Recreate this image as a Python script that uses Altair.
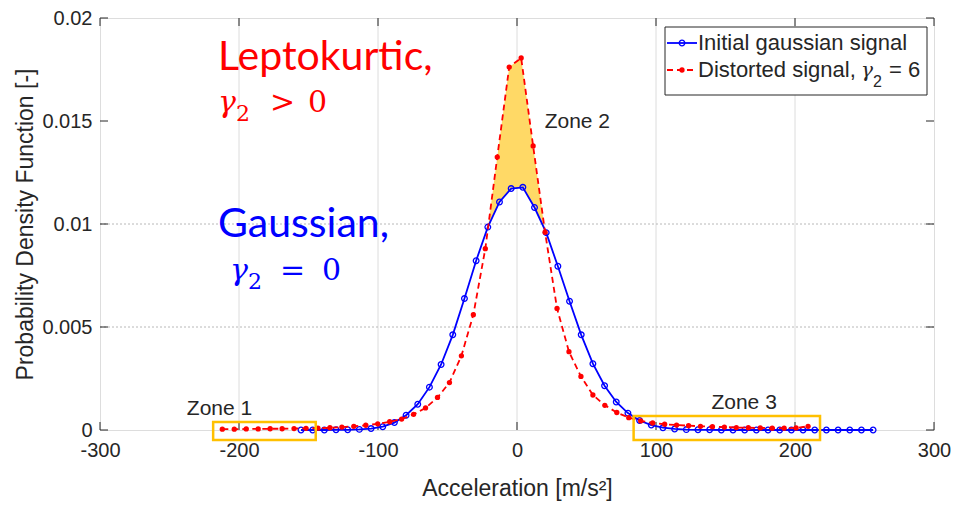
import altair as alt
import pandas as pd
import numpy as np

# ---------------- data ----------------
blue_x = [-155.4, -147.0, -138.6, -130.2, -121.8, -113.4, -105.0, -96.6, -88.2, -79.8,
          -71.4, -63.0, -54.6, -46.2, -37.8, -29.4, -21.0, -12.6, -4.2, 4.2,
          12.6, 21.0, 29.4, 37.8, 46.2, 54.6, 63.0, 71.4, 79.8, 88.2,
          96.6, 105.0, 113.4, 121.8, 130.2, 138.6, 147.0, 155.4, 163.8, 172.2,
          180.6, 189.0, 197.4, 205.8, 214.2, 222.6, 231.0, 239.4, 247.8, 256.2]
blue_y = [0.00000, 0.00000, 0.00000, 0.00001, 0.00001, 0.00003, 0.00007, 0.00016, 0.00036, 0.00072,
          0.00125, 0.00208, 0.00318, 0.00462, 0.00638, 0.00822, 0.00985, 0.01107, 0.01172, 0.01178,
          0.01080, 0.00958, 0.00795, 0.00625, 0.00462, 0.00322, 0.00215, 0.00136, 0.00082, 0.00046,
          0.00024, 0.00011, 0.00005, 0.00002, 0.00001, 0.00001, 0.00000, 0.00000, 0.00000, 0.00000,
          0.00000, 0.00000, 0.00000, 0.00000, 0.00000, 0.00000, 0.00000, 0.00000, 0.00000, 0.00000]

red_x = [-212.0, -203.4, -194.8, -186.2, -177.6, -169.0, -160.4, -151.8, -143.2, -134.6,
         -126.0, -117.4, -108.8, -100.2, -91.6, -83.0, -74.4, -65.8, -57.2, -48.6,
         -40.0, -31.4, -22.8, -14.2, -5.6, 3.0, 11.6, 20.2, 28.8, 37.4,
         46.0, 54.6, 63.2, 71.8, 80.4, 89.0, 97.6, 106.2, 114.8, 123.4,
         132.0, 140.6, 149.2, 157.8, 166.4, 175.0, 183.6, 192.2, 200.8, 209.4]
red_y = [0.00004, 0.00004, 0.00005, 0.00005, 0.00006, 0.00006, 0.00007, 0.00008, 0.00009, 0.00011,
         0.00014, 0.00018, 0.00023, 0.00030, 0.00040, 0.00053, 0.00076, 0.00107, 0.00158, 0.00230,
         0.00360, 0.00560, 0.00880, 0.01325, 0.01762, 0.01806, 0.01379, 0.00960, 0.00590, 0.00380,
         0.00260, 0.00170, 0.00120, 0.00085, 0.00060, 0.00044, 0.00034, 0.00028, 0.00024, 0.00021,
         0.00018, 0.00016, 0.00014, 0.00012, 0.00011, 0.00010, 0.00009, 0.00009, 0.00010, 0.00018]

x_ticks = [-300, -200, -100, 0, 100, 200, 300]
y_ticks = [0, 0.005, 0.01, 0.015, 0.02]
x_grid = [-200, -100, 0, 100, 200]
y_grid = [0.005, 0.01]

zone_x = [-218.6, 83.9]
zone_x2 = [-144.8, 218.0]
zone_top = [0.00039, 0.00068]
zone_bottom = [-0.00049, -0.00049]

zone_label = ["Zone 1", "Zone 2", "Zone 3"]
zone_label_x = [-214.0, 43.4, 163.4]
zone_label_y = [0.00102, 0.01493, 0.00131]

fill_range = [-22.8, 20.2]

# ---------------- frames ----------------
blue = pd.DataFrame({"bx": blue_x, "by": blue_y})
red = pd.DataFrame({"rx": red_x, "ry": red_y})
fx = np.linspace(fill_range[0], fill_range[1], 300)
f_red = np.interp(fx, red_x, red_y)
f_blue = np.interp(fx, blue_x, blue_y)
fill = pd.DataFrame({"fx": fx, "ftop": np.maximum(f_red, f_blue), "fbot": f_blue})
zones = pd.DataFrame({"zx": zone_x, "zx2": zone_x2, "zy": zone_top, "zy2": zone_bottom})
zlab = pd.DataFrame({"lx": zone_label_x, "ly": zone_label_y, "lt": zone_label})
xt = pd.DataFrame({"t": x_ticks})
yt = pd.DataFrame({"t": y_ticks})
xg = pd.DataFrame({"g": x_grid})
yg = pd.DataFrame({"g": y_grid})
one = pd.DataFrame({"a": [0]})

W, H = 834, 412
FONT = "Liberation Sans"
DARK = "#262626"

xscale = alt.Scale(domain=[-300, 300], nice=False, zero=False)
yscale = alt.Scale(domain=[0, 0.02], nice=False, zero=False)
xaxis = alt.Axis(values=x_ticks, title="Acceleration [m/s²]", grid=False, ticks=False,
                 domain=False, labelExpr="'' + datum.value", labelFlush=False,
                 labelOverlap=False, labelPadding=10, labelFontSize=20, labelFont=FONT,
                 labelColor=DARK, titleFontSize=23, titleFont=FONT, titleColor=DARK,
                 titleFontWeight="normal", titleBaseline="alphabetic", titleY=65)
yaxis = alt.Axis(values=y_ticks, title="Probability Density Function [-]", grid=False,
                 ticks=False, domain=False, format="~g", labelFlush=False, labelOverlap=False,
                 labelPadding=8, labelFontSize=20, labelFont=FONT, labelColor=DARK,
                 titleFontSize=23, titleFont=FONT, titleColor=DARK, titleFontWeight="normal",
                 titleBaseline="alphabetic", titleAlign="center", titleX=-68, titleY=206)


def X(f):
    return alt.X(f, type="quantitative", scale=xscale, axis=xaxis)


def Y(f):
    return alt.Y(f, type="quantitative", scale=yscale, axis=yaxis)


layers = []
# grid
layers.append(alt.Chart(xg).mark_rule(color="#dcdcdc", strokeWidth=1).encode(
    x=X("g"), y=alt.value(0), y2=alt.value(H)))
layers.append(alt.Chart(yg).mark_rule(color="#b8b8b8", strokeWidth=1, strokeDash=[2, 2]).encode(
    y=Y("g"), x=alt.value(0), x2=alt.value(W)))
# ticks (inward)
layers.append(alt.Chart(xt).mark_rule(color=DARK, strokeWidth=1).encode(
    x=X("t"), y=alt.value(H), y2=alt.value(H - 8)))
layers.append(alt.Chart(xt).mark_rule(color=DARK, strokeWidth=1).encode(
    x=X("t"), y=alt.value(0), y2=alt.value(8)))
layers.append(alt.Chart(yt).mark_rule(color=DARK, strokeWidth=1).encode(
    y=Y("t"), x=alt.value(0), x2=alt.value(8)))
layers.append(alt.Chart(yt).mark_rule(color=DARK, strokeWidth=1).encode(
    y=Y("t"), x=alt.value(W), x2=alt.value(W - 8)))
# fill zone 2
layers.append(alt.Chart(fill).mark_area(color="#FFD966", opacity=1).encode(
    x=X("fx"), y=Y("ftop"), y2="fbot"))
# blue gaussian
layers.append(alt.Chart(blue).mark_line(color="#0000FF", strokeWidth=1.8).encode(
    x=X("bx"), y=Y("by")))
layers.append(alt.Chart(blue).mark_point(shape="circle", filled=False, size=32,
                                         color="#0000FF", strokeWidth=1.3, opacity=1).encode(
    x=X("bx"), y=Y("by")))
# red distorted
layers.append(alt.Chart(red).mark_line(color="#FF0000", strokeWidth=1.8, strokeDash=[6, 4]).encode(
    x=X("rx"), y=Y("ry")))
layers.append(alt.Chart(red).mark_point(shape="circle", filled=True, size=28,
                                        color="#FF0000", opacity=1).encode(
    x=X("rx"), y=Y("ry")))
# zone boxes
layers.append(alt.Chart(zones).mark_rect(fillOpacity=0, stroke="#FFC000", strokeWidth=2.5).encode(
    x=X("zx"), x2="zx2", y=Y("zy"), y2="zy2"))
layers.append(alt.Chart(zlab).mark_text(font=FONT, fontSize=21, color=DARK, align="center",
                                        baseline="middle").encode(
    x=X("lx"), y=Y("ly"), text="lt"))


def txt(s, x, y, size, color, font, style="normal", align="left"):
    return alt.Chart(one).mark_text(text=s, font=font, fontSize=size, color=color,
                                    fontStyle=style, align=align, baseline="alphabetic").encode(
        x=alt.value(x), y=alt.value(y))


# big annotations
RED, BLUE = "#FF0000", "#0000FF"
SER = "DejaVu Serif"
layers += [
    txt("Leptokurtic,", 118, 52, 41, RED, "Lato"),
    txt("γ", 118, 94, 30, RED, SER, "italic"),
    txt("2", 136, 103, 22, RED, SER),
    txt(">", 170, 94, 30, RED, SER),
    txt("0", 208, 94, 30, RED, SER),
    txt("Gaussian,", 118, 219, 41, BLUE, "Lato"),
    txt("γ", 130, 262, 30, BLUE, SER, "italic"),
    txt("2", 148, 271, 22, BLUE, SER),
    txt("=", 180, 262, 30, BLUE, SER),
    txt("0", 222, 262, 30, BLUE, SER),
]

# legend
layers.append(alt.Chart(one).mark_rect(fill="white", stroke=DARK, strokeWidth=1).encode(
    x=alt.value(565), x2=alt.value(827), y=alt.value(9), y2=alt.value(77)))
layers.append(alt.Chart(one).mark_rule(color=BLUE, strokeWidth=1.8).encode(
    x=alt.value(567), x2=alt.value(597), y=alt.value(25)))
layers.append(alt.Chart(one).mark_point(shape="circle", filled=False, size=32, color=BLUE,
                                        strokeWidth=1.3, opacity=1).encode(
    x=alt.value(582), y=alt.value(25)))
layers.append(alt.Chart(one).mark_rule(color=RED, strokeWidth=1.8, strokeDash=[6, 4]).encode(
    x=alt.value(567), x2=alt.value(597), y=alt.value(52)))
layers.append(alt.Chart(one).mark_point(shape="circle", filled=True, size=28, color=RED,
                                        opacity=1).encode(
    x=alt.value(582), y=alt.value(52)))
layers += [
    txt("Initial gaussian signal", 598, 32, 22, DARK, FONT),
    txt("Distorted signal,", 598, 59, 22, DARK, FONT),
    txt("γ", 761, 59, 20, DARK, SER, "italic"),
    txt("2", 773, 69, 16, DARK, FONT),
    txt("= 6", 789, 59, 22, DARK, FONT),
]

chart = alt.layer(*layers).properties(
    width=W, height=H,
    autosize=alt.AutoSizeParams(type="none"),
    padding={"left": 100, "top": 18, "right": 23, "bottom": 76},
).configure_view(stroke="#808080", strokeWidth=1).configure(background="white")

chart.save("out.html", embed_options={"renderer": "svg", "actions": False})
